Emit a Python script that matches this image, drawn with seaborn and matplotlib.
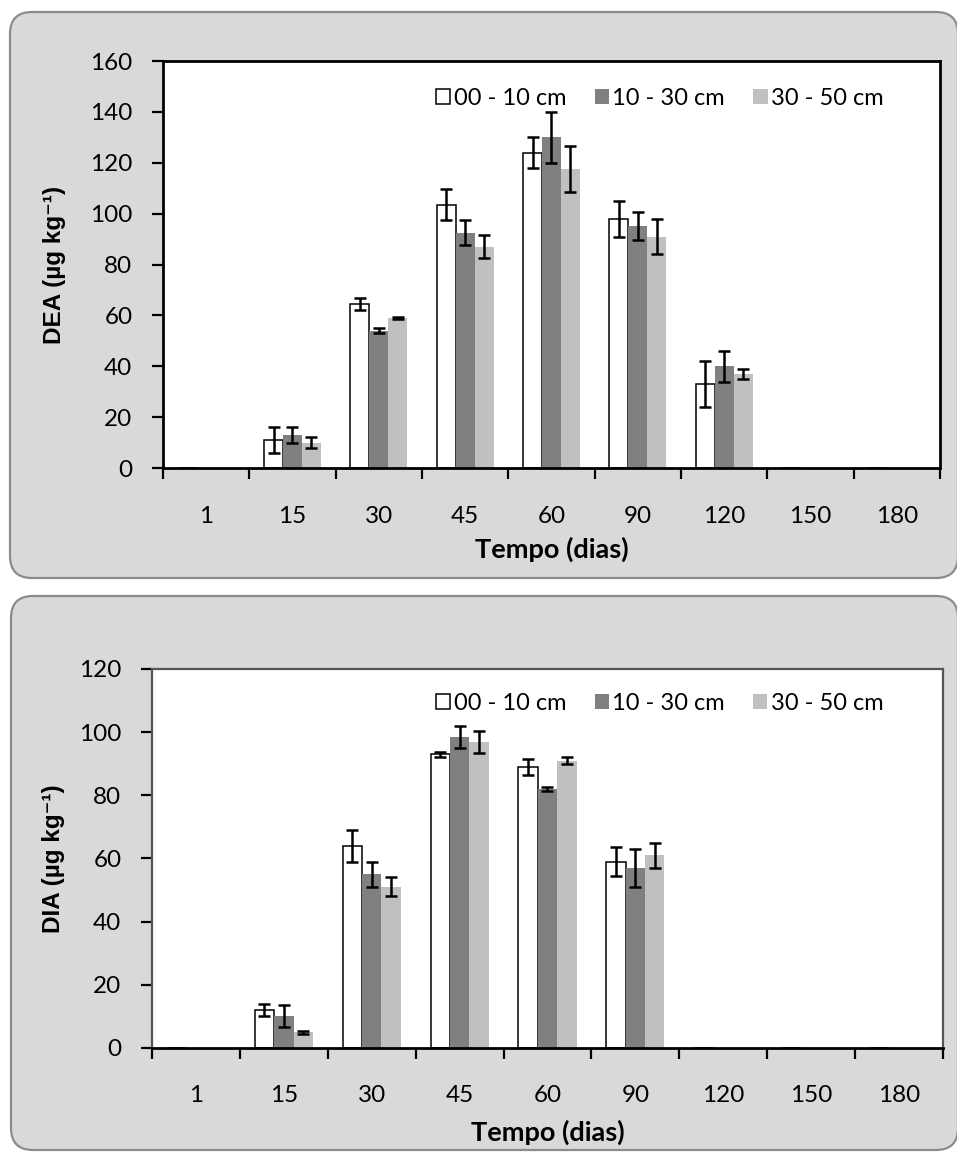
import numpy as np
import pandas as pd
import matplotlib
matplotlib.use("Agg")
import matplotlib.pyplot as plt
import seaborn as sns
from matplotlib.patches import FancyBboxPatch, Patch

# ---------------- data ----------------
days = ["1", "15", "30", "45", "60", "90", "120", "150", "180"]
depths = ["00 - 10 cm", "10 - 30 cm", "30 - 50 cm"]

dea_0_10 = [0, 11, 64.5, 103.5, 124, 98, 33, 0, 0]
dea_10_30 = [0, 13, 54, 92.5, 130, 95, 40, 0, 0]
dea_30_50 = [0, 10, 59, 87, 117.5, 91, 37, 0, 0]
dea_err_0_10 = [0, 5, 2.5, 6, 6, 7, 9, 0, 0]
dea_err_10_30 = [0, 3, 1, 5, 10, 5.5, 6, 0, 0]
dea_err_30_50 = [0, 2, 0.5, 4.5, 9, 7, 2, 0, 0]

dia_0_10 = [0, 12, 64, 93, 89, 59, 0, 0, 0]
dia_10_30 = [0, 10, 55, 98.5, 82, 57, 0, 0, 0]
dia_30_50 = [0, 5, 51, 97, 91, 61, 0, 0, 0]
dia_err_0_10 = [0, 2, 5, 0.8, 2.5, 4.5, 0, 0, 0]
dia_err_10_30 = [0, 3.5, 4, 3.5, 0.7, 6, 0, 0, 0]
dia_err_30_50 = [0, 0.5, 3, 3.5, 1.2, 4, 0, 0, 0]

yticks_dea = [0, 20, 40, 60, 80, 100, 120, 140, 160]
yticks_dia = [0, 20, 40, 60, 80, 100, 120]

palette = ["#ffffff", "#808080", "#c0c0c0"]

plt.rcParams["font.family"] = ["Lato", "DejaVu Sans"]

fig = plt.figure(figsize=(9.57, 11.53), dpi=100)
fig.patch.set_facecolor("white")

# panels (inches, from bottom-left)
for (x0, y0, w, h) in [(0.10, 5.75, 9.48, 5.66), (0.11, 0.03, 9.47, 5.54)]:
    fig.add_artist(FancyBboxPatch((x0, y0), w, h,
                                  boxstyle="round,pad=0,rounding_size=0.22",
                                  transform=fig.dpi_scale_trans,
                                  facecolor="#d9d9d9", edgecolor="#8c8c8c",
                                  linewidth=1.6, zorder=0))


def make_df(vals):
    rows = []
    for d, series in zip(depths, vals):
        for day, v in zip(days, series):
            rows.append({"day": day, "val": v, "depth": d})
    return pd.DataFrame(rows)


def draw(ax, vals, errs, yticks, ylabel, spine_color, spine_lw, leg_xy, xlab_y, ylab_x):
    df = make_df(vals)
    sns.barplot(data=df, x="day", y="val", hue="depth", order=days,
                hue_order=depths, palette=palette, width=0.66,
                errorbar=None, saturation=1, ax=ax, legend=False,
                linewidth=0)
    ax.set_facecolor("white")
    bar_conts = list(ax.containers)[:3]
    for i, cont in enumerate(bar_conts):
        for bar, e in zip(cont, errs[i]):
            if i == 0:
                bar.set_edgecolor("black")
                bar.set_linewidth(1.1)
            xc = bar.get_x() + bar.get_width() / 2
            h = bar.get_height()
            if e > 0:
                ax.errorbar(xc, h, yerr=e, fmt="none", ecolor="black",
                            elinewidth=1.8, capsize=4.3, capthick=1.8, zorder=5)
    ax.set_xlim(-0.5, len(days) - 0.5)
    ax.set_ylim(yticks[0], yticks[-1])
    ax.set_yticks(yticks)
    ax.set_yticklabels([str(t) for t in yticks])
    major = np.arange(-0.5, len(days), 1.0)
    ax.set_xticks(major)
    ax.set_xticklabels([""] * len(major))
    ax.set_xticks(np.arange(len(days)), minor=True)
    ax.set_xticklabels(days, minor=True)
    ax.tick_params(axis="x", which="major", direction="out", length=8,
                   width=1.6, color="black")
    ax.tick_params(axis="x", which="minor", length=0, pad=27, labelsize=17.5)
    ax.tick_params(axis="y", direction="out", length=8, width=1.6,
                   pad=14, labelsize=17.5, color="black")
    for s in ["top", "right", "left"]:
        ax.spines[s].set_color(spine_color)
        ax.spines[s].set_linewidth(spine_lw)
    ax.spines["bottom"].set_color("black")
    ax.spines["bottom"].set_linewidth(2.0)

    ax.set_xlabel("Tempo (dias)", fontsize=19.5, fontweight="bold")
    ax.xaxis.label.set_va("center")
    ax.xaxis.set_label_coords(0.5, xlab_y)
    ax.set_ylabel(ylabel, fontsize=17.5, fontweight="bold",
                  family=["Liberation Sans", "DejaVu Sans"])
    ax.yaxis.label.set_va("center")
    ax.yaxis.set_label_coords(ylab_x, 0.5)

    handles = [Patch(facecolor=palette[0], edgecolor="black", linewidth=1.1),
               Patch(facecolor=palette[1], edgecolor="none"),
               Patch(facecolor=palette[2], edgecolor="none")]
    ax.legend(handles, depths, loc="center", bbox_to_anchor=leg_xy, ncol=3,
              frameon=False, fontsize=17, handlelength=0.6, handleheight=0.6,
              handletextpad=0.15, columnspacing=1.2, borderpad=0)


ax1 = fig.add_axes([0.17032, 0.59410, 0.81191, 0.35299])
draw(ax1, [dea_0_10, dea_10_30, dea_30_50],
     [dea_err_0_10, dea_err_10_30, dea_err_30_50],
     yticks_dea, "DEA (µg kg⁻¹)", "black", 2.0,
     (0.6396, 0.909), -0.199, -0.140)

ax2 = fig.add_axes([0.15883, 0.09107, 0.82654, 0.32871])
draw(ax2, [dia_0_10, dia_10_30, dia_30_50],
     [dia_err_0_10, dia_err_10_30, dia_err_30_50],
     yticks_dia, "DIA (µg kg⁻¹)", "#555555", 1.6,
     (0.642, 0.910), -0.222, -0.124)

fig.savefig("out.png", dpi=100)
